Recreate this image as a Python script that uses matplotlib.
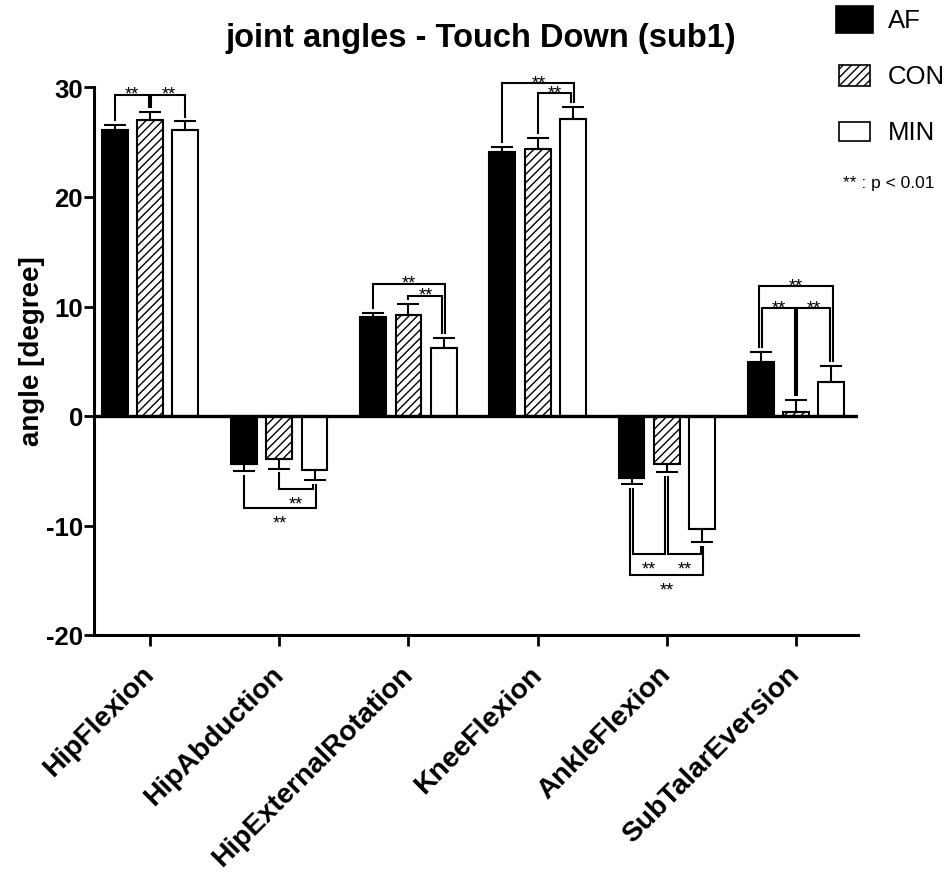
import matplotlib
matplotlib.use("Agg")
import matplotlib.pyplot as plt
from matplotlib.patches import Rectangle
from matplotlib.transforms import ScaledTranslation
from collections import Counter
import numpy as np

plt.rcParams['font.family'] = ['Liberation Sans', 'DejaVu Sans']
plt.rcParams['hatch.linewidth'] = 1.0
plt.rcParams['axes.unicode_minus'] = False

categories = ["HipFlexion", "HipAbduction", "HipExternalRotation",
              "KneeFlexion", "AnkleFlexion", "SubTalarEversion"]
groups = ["AF", "CON", "MIN"]

af_mean = [26.1, -4.35, 9.0, 24.1, -5.7, 4.95]
af_err = [0.5, 0.65, 0.45, 0.5, 0.55, 0.9]
con_mean = [27.0, -3.95, 9.2, 24.4, -4.35, 0.4]
con_err = [0.75, 0.85, 1.0, 1.0, 0.75, 1.05]
min_mean = [26.1, -4.95, 6.2, 27.1, -10.35, 3.1]
min_err = [0.8, 0.9, 0.9, 1.15, 1.2, 1.45]

# significance comparisons: (category index, group a, group b, bracket level)
comparisons = [
    (0, 0, 1, 29.35), (0, 1, 2, 29.35),
    (1, 1, 2, -6.7), (1, 0, 2, -8.4),
    (2, 0, 2, 12.1), (2, 1, 2, 11.0),
    (3, 0, 2, 30.4), (3, 1, 2, 29.5),
    (4, 0, 1, -12.6), (4, 1, 2, -12.6), (4, 0, 2, -14.55),
    (5, 0, 1, 9.85), (5, 1, 2, 9.85), (5, 0, 2, 11.85),
]
sig_label = "**"

W, H = 953, 879
fig = plt.figure(figsize=(W / 100, H / 100), dpi=100)
ax_l, ax_r, ax_t, ax_b = 94, 858, 88.5, 636
ax = fig.add_axes([ax_l / W, 1 - ax_b / H, (ax_r - ax_l) / W, (ax_b - ax_t) / H])

x = np.arange(len(categories))
offset = 0.273
bw = 0.2
means = [af_mean, con_mean, min_mean]
errs = [af_err, con_err, min_err]
styles = [dict(color='black', hatch=None),
          dict(color='white', hatch='////'),
          dict(color='white', hatch=None)]

for g in range(3):
    xs = x + (g - 1) * offset
    m = np.array(means[g])
    e = np.array(errs[g])
    ax.bar(xs, m, width=bw, color=styles[g]['color'], edgecolor='black',
           hatch=styles[g]['hatch'], linewidth=1.5, zorder=2)
    lower = np.where(m < 0, e, 0)
    upper = np.where(m >= 0, e, 0)
    ax.errorbar(xs, m, yerr=[lower, upper], fmt='none', ecolor='black',
                elinewidth=1.5, capsize=8, capthick=1.5, zorder=3)

ax.axhline(0, color='black', lw=2.4, zorder=4)

# significance brackets
gap = 0.45
d = 0.011
use = Counter()
for c, a, b, lev in comparisons:
    use[(c, a)] += 1
    use[(c, b)] += 1
for c, a, b, lev in comparisons:
    sign = 1 if lev > 0 else -1
    span = b - a
    xa = x[c] + (a - 1) * offset
    xb = x[c] + (b - 1) * offset
    if use[(c, a)] > 1:
        xa += d if span == 1 else -d
    if use[(c, b)] > 1:
        xb += -d if span == 1 else d
    ya = means[a][c] + sign * (errs[a][c] + gap)
    yb = means[b][c] + sign * (errs[b][c] + gap)
    ax.plot([xa, xa, xb, xb], [ya, lev, lev, yb], color='black', lw=1.5,
            solid_joinstyle='miter', zorder=3, clip_on=False)
    ax.annotate(sig_label, xy=((xa + xb) / 2, lev), xytext=(0, -3 if sign > 0 else -14),
                textcoords='offset points', ha='center', va='baseline',
                fontsize=13, zorder=5, annotation_clip=False)

ax.set_xlim(-0.434, 5.48)
ax.set_ylim(-20, 30)
ax.set_yticks([-20, -10, 0, 10, 20, 30])
ax.set_xticks(x)
ax.set_xticklabels(categories, rotation=45, ha='right', va='center',
                   rotation_mode='anchor', fontsize=20.3, fontweight='bold')
shift = ScaledTranslation(5 / 100, 0, fig.dpi_scale_trans)
for lab in ax.get_xticklabels():
    lab.set_transform(lab.get_transform() + shift)
for lab in ax.get_yticklabels():
    lab.set_fontsize(18.5)
    lab.set_fontweight('bold')
ax.tick_params(axis='both', direction='out', length=8, width=2)
ax.tick_params(axis='x', pad=17)
ax.tick_params(axis='y', length=7, pad=1)
for s in ['top', 'right']:
    ax.spines[s].set_visible(False)
for s in ['left', 'bottom']:
    ax.spines[s].set_linewidth(2.2)

ax.set_ylabel("angle [degree]", fontsize=20, fontweight='bold')
ax.yaxis.set_label_coords((45 - ax_l) / (ax_r - ax_l), (ax_b - 351) / (ax_b - ax_t))

fig.text(481 / W, 1 - 38 / H, "joint angles - Touch Down (sub1)", ha='center',
         va='center', fontsize=23.5, fontweight='bold')

# legend
leg_boxes = [(836, 7, 37, 27), (839, 66, 31, 21), (839, 123, 31, 19)]
for g, (bx, by, bwid, bh) in enumerate(leg_boxes):
    r = Rectangle((bx / W, 1 - (by + bh) / H), bwid / W, bh / H,
                  transform=fig.transFigure, facecolor=styles[g]['color'],
                  edgecolor='black', hatch=styles[g]['hatch'], linewidth=1.2)
    fig.add_artist(r)
    fig.text(888 / W, 1 - (by + bh / 2) / H, groups[g], ha='left', va='center',
             fontsize=18.5)
fig.text(843 / W, 1 - 184 / H, "** : p < 0.01", ha='left', va='center', fontsize=12.5)

fig.savefig("out.png", dpi=100)
